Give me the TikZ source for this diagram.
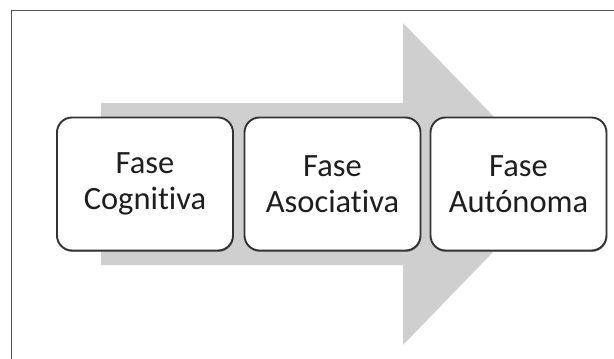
\documentclass[tikz,border=0pt]{standalone}
\usepackage{fontspec}
\setmainfont[Ligatures=NoCommon]{Carlito}
\usetikzlibrary{shadows}
\definecolor{arrowgray}{HTML}{CFCFCF}
\definecolor{framegray}{HTML}{555555}
\definecolor{boxline}{HTML}{333333}
\definecolor{txt}{HTML}{1E1E1E}
\tikzset{
  phase/.style={draw=boxline, line width=1.9pt, fill=white, rounded corners=15pt,
    minimum width=176pt, minimum height=133pt, align=center, text=txt,
    font=\fontsize{32.5}{36.5}\selectfont,
    drop shadow={shadow xshift=0.6pt, shadow yshift=-1.4pt, fill=black!55, opacity=0.8}},
}
\begin{document}
\begin{tikzpicture}[x=1pt,y=-1pt]
  \useasboundingbox (0,0) rectangle (614,359);
  % partial frame (left and top edges)
  \draw[framegray, line width=1.5pt] (11.5,359) -- (11.5,10.5) -- (614,10.5);
  % large background arrow
  \fill[arrowgray] (101,103) -- (403,103) -- (403,23) -- (559,184)
    -- (403,345) -- (403,265) -- (101,265) -- cycle;
  % phase boxes
  \node[phase] (cog) at (145,184) {Fase\\Cognitiva};
  \node[phase] (aso) at (332.5,184) {Fase\\Asociativa};
  \node[phase] (aut) at (518.5,184) {Fase\\Autónoma};
\end{tikzpicture}
\end{document}
